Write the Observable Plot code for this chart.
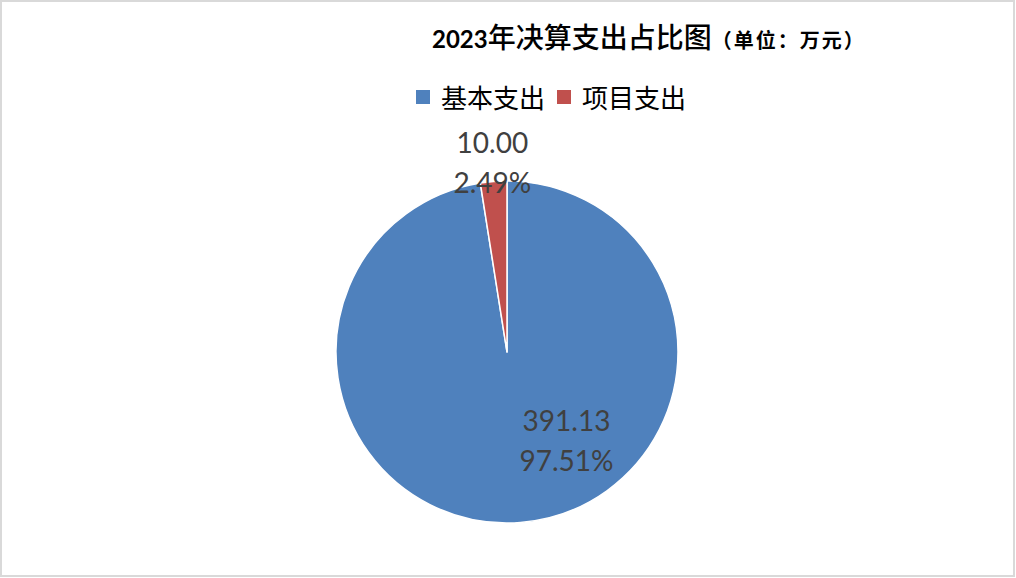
<!DOCTYPE html>
<html><head><meta charset="utf-8">
<script src="https://cdn.jsdelivr.net/npm/d3@7"></script>
<script src="https://cdn.jsdelivr.net/npm/@observablehq/plot@0.6"></script>
<style>
html,body{margin:0;padding:0;background:#fff;}
#page{position:relative;width:1016px;height:578px;overflow:hidden;}
#frame{position:absolute;left:0;top:0;width:1011px;height:573px;border:2px solid #d9d9d9;pointer-events:none;z-index:5;}
#title{height:70px;box-sizing:border-box;padding:18px 0 0 432px;white-space:nowrap;color:#000;line-height:36px;}
#title .num{font-family:Lato,"Noto Sans",sans-serif;font-weight:bold;font-size:24px;}
#title .cjk{font-family:"Noto Sans CJK SC",sans-serif;font-weight:500;font-size:28px;}
#title .unit{font-family:"Noto Sans CJK SC",sans-serif;font-weight:bold;font-size:20px;letter-spacing:2px;}
#legend{height:50px;box-sizing:border-box;padding:9px 0 0 416px;}
#legend > *{font-family:"Noto Sans CJK SC",sans-serif !important;font-size:26px !important;color:#000 !important;line-height:36px;margin:0 !important;}
#legend span{margin-right:12px !important;}
#legend span svg{margin-right:11px !important;}
#chart svg{display:block;}
</style></head><body>
<div id="page">
<div id="frame"></div>
<div id="title"></div>
<div id="legend"></div>
<div id="chart"></div>
</div>
<script>
// ---- data ----
const titleYear = "2023";
const titleMain = "年决算支出占比图";
const titleUnit = "（单位：万元）";
const categories = ["基本支出", "项目支出"];
const values = [391.13, 10.00];
const palette = ["#4F81BD", "#C0504D"];

// ---- title ----
const t = document.getElementById("title");
t.innerHTML = `<span class="num">${titleYear}</span><span class="cjk">${titleMain}</span><span class="unit">${titleUnit}</span>`;

// ---- derived table ----
const total = d3.sum(values);
const table = categories.map((name, i) => ({name, value: values[i], pct: values[i] / total}));
const arcs = d3.pie().value(d => d.value).sort(null)(table);
arcs.forEach(a => { a.data.mid = (a.startAngle + a.endAngle) / 2; });
const label = d => `${d.value.toFixed(2)}\n${(d.pct * 100).toFixed(2)}%`;

// ---- legend ----
const legend = Plot.legend({
  color: {type: "ordinal", domain: categories, range: palette},
  swatchSize: 14,
  style: {fontFamily: "Noto Sans CJK SC", fontSize: "26px", color: "#000"}
});
document.getElementById("legend").append(legend);

// ---- pie ----
const W = 1016, H = 458, cx = 507, cy = 232, R = 171;

function pieSlices(index, scales) {
  const x0 = scales.x(0), y0 = scales.y(0), r = scales.x(1) - scales.x(0);
  const color = scales.color || (n => Plot.scale({color: {domain: categories, range: palette}}).apply(n));
  const arc = d3.arc().innerRadius(0).outerRadius(r);
  const g = d3.create("svg:g").attr("transform", `translate(${x0},${y0})`);
  g.selectAll("path").data(arcs).join("path")
    .attr("d", arc)
    .attr("fill", d => color(d.data.name))
    .attr("stroke", "#fff")
    .attr("stroke-width", 1.5)
    .attr("stroke-linejoin", "round");
  return g.node();
}

const polar = (rad) => ({
  x: d => rad * Math.sin(d.mid),
  y: d => rad * Math.cos(d.mid)
});

const textStyle = {
  text: label, fill: "#404040", fontSize: 28, fontFamily: "Lato, 'Noto Sans', sans-serif",
  lineHeight: 1.43, textAnchor: "middle", lineAnchor: "middle"
};

const chart = Plot.plot({
  width: W, height: H,
  margin: 0,
  x: {domain: [-1, 1], range: [cx - R, cx + R], axis: null},
  y: {domain: [-1, 1], range: [cy + R, cy - R], axis: null},
  color: {domain: categories, range: palette},
  marks: [
    Plot.dot(table, {x: () => 0, y: () => 0, fill: "name", r: 0}),
    pieSlices,
    Plot.text(table.filter(d => d.name === categories[0]), {...polar(0.6), ...textStyle, dx: 51, dy: -17}),
    Plot.text(table.filter(d => d.name === categories[1]), {...polar(1.13), ...textStyle})
  ]
});
document.getElementById("chart").append(chart);
</script>
</body></html>
